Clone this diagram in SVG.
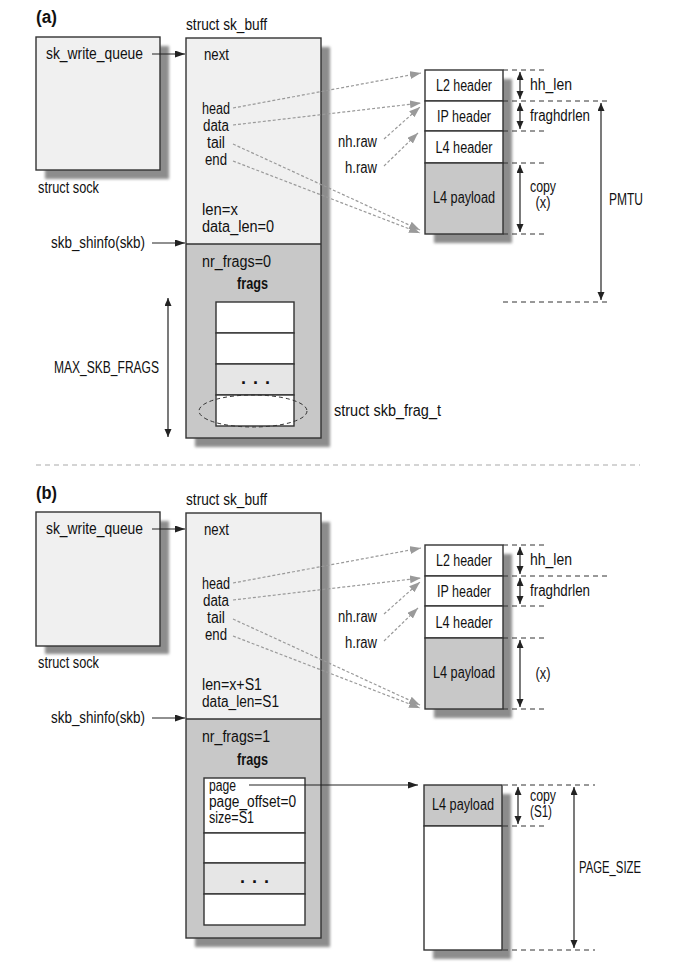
<svg xmlns="http://www.w3.org/2000/svg" width="676" height="964" viewBox="0 0 676 964">
<style>
text{font-family:"Liberation Sans",Arial,sans-serif;font-size:16px;fill:#111}
.b{font-weight:bold}
.t{font-size:18px;font-weight:bold}
.m{text-anchor:middle}
.dots{font-size:18px;font-weight:bold}
.box{stroke:#333;stroke-width:1.4}
.sh{fill:#8c8c8c;filter:url(#blur)}
.lt{fill:#f0f0f0}
.dk{fill:#c8c8c8}
.wh{fill:#fff}
.md{fill:#e6e6e6}
.arr{stroke:#222;stroke-width:1.2;fill:none;marker-end:url(#ah)}
.dbl{stroke:#222;stroke-width:1.2;fill:none;marker-end:url(#ah2);marker-start:url(#ah2)}
.gr{stroke:#9a9a9a;stroke-width:1.2;stroke-dasharray:3 2;fill:none;marker-end:url(#ahg)}
.dim{stroke:#333;stroke-width:1;stroke-dasharray:5 4;fill:none}
.sep{stroke:#aaa;stroke-width:1.2;stroke-dasharray:5 4}
</style>
<defs>
<filter id="blur" x="-10%" y="-10%" width="120%" height="120%"><feGaussianBlur stdDeviation="1.6"/></filter>
<marker id="ah" markerUnits="userSpaceOnUse" markerWidth="11" markerHeight="8" refX="10" refY="3.5" orient="auto"><path d="M0,0 L10,3.5 L0,7 z" fill="#222"/></marker>
<marker id="ah2" markerUnits="userSpaceOnUse" markerWidth="10" markerHeight="8" refX="8" refY="3.5" orient="auto-start-reverse"><path d="M0,0 L8,3.5 L0,7 z" fill="#222"/></marker>
<marker id="ahg" markerUnits="userSpaceOnUse" markerWidth="12" markerHeight="9" refX="11" refY="4" orient="auto"><path d="M0,0 L11,4 L0,8 z" fill="#9a9a9a"/></marker>
</defs>

<!-- ================= (a) ================= -->
<text x="36" y="23" class="t" textLength="21" lengthAdjust="spacingAndGlyphs">(a)</text>

<g id="sockA">
<rect x="45" y="46" width="124" height="133" class="sh"/>
<rect x="36" y="37" width="124" height="133" class="lt box"/>
<text x="46" y="59" textLength="97" lengthAdjust="spacingAndGlyphs">sk_write_queue</text>
<text x="38" y="193" textLength="61" lengthAdjust="spacingAndGlyphs">struct sock</text>
</g>

<g id="shinfoA">
<text x="51" y="248" textLength="94" lengthAdjust="spacingAndGlyphs">skb_shinfo(skb)</text>
</g>

<g id="skbA">
<text x="186" y="30" textLength="81" lengthAdjust="spacingAndGlyphs">struct sk_buff</text>
<rect x="195" y="47" width="135" height="400" class="sh"/>
<rect x="186" y="38" width="135" height="206" class="lt"/>
<rect x="186" y="244" width="135" height="194" class="dk"/>
<rect x="186" y="38" width="135" height="400" fill="none" class="box"/>
<line x1="186" y1="244" x2="321" y2="244" class="box"/>
<text x="204" y="60" textLength="25" lengthAdjust="spacingAndGlyphs">next</text>
<text x="202" y="114" textLength="28" lengthAdjust="spacingAndGlyphs">head</text>
<text x="203" y="131" textLength="26" lengthAdjust="spacingAndGlyphs">data</text>
<text x="207" y="148" textLength="18" lengthAdjust="spacingAndGlyphs">tail</text>
<text x="205" y="165" textLength="22" lengthAdjust="spacingAndGlyphs">end</text>
<text x="202" y="215" textLength="36" lengthAdjust="spacingAndGlyphs">len=x</text>
<text x="202" y="232" textLength="72" lengthAdjust="spacingAndGlyphs">data_len=0</text>
<text x="202" y="267" textLength="69" lengthAdjust="spacingAndGlyphs">nr_frags=0</text>
<text x="237" y="289" class="b" textLength="31" lengthAdjust="spacingAndGlyphs">frags</text>
</g>

<g id="fragsA">
<rect x="216" y="302" width="78" height="31" class="wh box"/>
<rect x="216" y="333" width="78" height="31" class="wh box"/>
<rect x="216" y="364" width="78" height="31" class="md box"/>
<rect x="216" y="395" width="78" height="31" class="wh box"/>
<text x="256" y="384" class="m dots" letter-spacing="1">. . .</text>
<ellipse cx="253" cy="411" rx="54" ry="16" fill="none" stroke="#333" stroke-width="1" stroke-dasharray="4 3"/>
<text x="334" y="416" textLength="107" lengthAdjust="spacingAndGlyphs">struct skb_frag_t</text>
</g>

<g id="maxA">
<text x="54" y="373" textLength="105" lengthAdjust="spacingAndGlyphs">MAX_SKB_FRAGS</text>
</g>

<g id="pktA">
<rect x="434" y="79" width="78" height="164" class="sh"/>
<rect x="425" y="70" width="78" height="31" class="wh box"/>
<rect x="425" y="101" width="78" height="30" class="wh box"/>
<rect x="425" y="131" width="78" height="32" class="wh box"/>
<rect x="425" y="163" width="78" height="71" class="dk box"/>
<text x="464" y="91" class="m" textLength="56" lengthAdjust="spacingAndGlyphs">L2 header</text>
<text x="464" y="122" class="m" textLength="54" lengthAdjust="spacingAndGlyphs">IP header</text>
<text x="464" y="153" class="m" textLength="57" lengthAdjust="spacingAndGlyphs">L4 header</text>
<text x="464" y="203" class="m" textLength="62" lengthAdjust="spacingAndGlyphs">L4 payload</text>
<text x="530" y="90" textLength="42" lengthAdjust="spacingAndGlyphs">hh_len</text>
<text x="530" y="121" textLength="60" lengthAdjust="spacingAndGlyphs">fraghdrlen</text>
<text x="543" y="192" class="m" textLength="26" lengthAdjust="spacingAndGlyphs">copy</text>
<text x="543" y="208" class="m" textLength="15" lengthAdjust="spacingAndGlyphs">(x)</text>
<text x="609" y="205" textLength="34" lengthAdjust="spacingAndGlyphs">PMTU</text>
<text x="338" y="147" textLength="39" lengthAdjust="spacingAndGlyphs">nh.raw</text>
<text x="345" y="173" textLength="32" lengthAdjust="spacingAndGlyphs">h.raw</text>
</g>

<g id="connectorsA">
<path d="M152,54 L185,54" class="arr"/>
<path d="M152,243 L185,243" class="arr"/>
<path d="M168,298 L168,437" class="dbl"/>
<path d="M233,108 L421,73" class="gr"/>
<path d="M233,125 L421,103" class="gr"/>
<path d="M384,139 L420,107" class="gr"/>
<path d="M384,166 L418,133" class="gr"/>
<path d="M233,144 L420,230" class="gr"/>
<path d="M233,161 L420,233" class="gr"/>
<path d="M503,70 H545 M503,101 H610 M503,131 H545 M503,163 H545 M503,234 H545 M503,302 H610" class="dim"/>
<path d="M520,72 L520,99" class="dbl"/>
<path d="M520,103 L520,129" class="dbl"/>
<path d="M520,165 L520,232" class="dbl"/>
<path d="M601,103 L601,300" class="dbl"/>
</g>

<line x1="36" y1="465" x2="640" y2="465" class="sep"/>

<!-- ================= (b) ================= -->
<text x="36" y="499" class="t" textLength="21" lengthAdjust="spacingAndGlyphs">(b)</text>

<g id="sockB">
<rect x="45" y="521" width="124" height="133" class="sh"/>
<rect x="36" y="512" width="124" height="134" class="lt box"/>
<text x="46" y="534" textLength="97" lengthAdjust="spacingAndGlyphs">sk_write_queue</text>
<text x="38" y="668" textLength="61" lengthAdjust="spacingAndGlyphs">struct sock</text>
</g>

<g id="shinfoB">
<text x="51" y="723" textLength="94" lengthAdjust="spacingAndGlyphs">skb_shinfo(skb)</text>
</g>

<g id="skbB">
<text x="186" y="505" textLength="81" lengthAdjust="spacingAndGlyphs">struct sk_buff</text>
<rect x="195" y="522" width="135" height="425" class="sh"/>
<rect x="186" y="513" width="135" height="206" class="lt"/>
<rect x="186" y="719" width="135" height="219" class="dk"/>
<rect x="186" y="513" width="135" height="425" fill="none" class="box"/>
<line x1="186" y1="719" x2="321" y2="719" class="box"/>
<text x="204" y="535" textLength="25" lengthAdjust="spacingAndGlyphs">next</text>
<text x="202" y="589" textLength="28" lengthAdjust="spacingAndGlyphs">head</text>
<text x="203" y="606" textLength="26" lengthAdjust="spacingAndGlyphs">data</text>
<text x="207" y="623" textLength="18" lengthAdjust="spacingAndGlyphs">tail</text>
<text x="205" y="640" textLength="22" lengthAdjust="spacingAndGlyphs">end</text>
<text x="202" y="690" textLength="60" lengthAdjust="spacingAndGlyphs">len=x+S1</text>
<text x="202" y="707" textLength="77" lengthAdjust="spacingAndGlyphs">data_len=S1</text>
<text x="202" y="742" textLength="68" lengthAdjust="spacingAndGlyphs">nr_frags=1</text>
<text x="237" y="765" class="b" textLength="31" lengthAdjust="spacingAndGlyphs">frags</text>
</g>

<g id="fragsB">
<rect x="204" y="778" width="101" height="55" class="wh box"/>
<rect x="204" y="833" width="101" height="30" class="wh box"/>
<rect x="204" y="863" width="101" height="31" class="md box"/>
<rect x="204" y="894" width="101" height="31" class="wh box"/>
<text x="209" y="791" textLength="27" lengthAdjust="spacingAndGlyphs">page</text>
<text x="209" y="807" textLength="87" lengthAdjust="spacingAndGlyphs">page_offset=0</text>
<text x="209" y="823" textLength="45" lengthAdjust="spacingAndGlyphs">size=S1</text>
<text x="255" y="883" class="m dots" letter-spacing="1">. . .</text>
</g>

<g id="pktB">
<rect x="434" y="554" width="78" height="164" class="sh"/>
<rect x="425" y="545" width="78" height="31" class="wh box"/>
<rect x="425" y="576" width="78" height="30" class="wh box"/>
<rect x="425" y="606" width="78" height="32" class="wh box"/>
<rect x="425" y="638" width="78" height="71" class="dk box"/>
<text x="464" y="566" class="m" textLength="56" lengthAdjust="spacingAndGlyphs">L2 header</text>
<text x="464" y="597" class="m" textLength="54" lengthAdjust="spacingAndGlyphs">IP header</text>
<text x="464" y="628" class="m" textLength="57" lengthAdjust="spacingAndGlyphs">L4 header</text>
<text x="464" y="678" class="m" textLength="62" lengthAdjust="spacingAndGlyphs">L4 payload</text>
<text x="530" y="565" textLength="42" lengthAdjust="spacingAndGlyphs">hh_len</text>
<text x="530" y="596" textLength="60" lengthAdjust="spacingAndGlyphs">fraghdrlen</text>
<text x="543" y="679" class="m" textLength="15" lengthAdjust="spacingAndGlyphs">(x)</text>
<text x="338" y="622" textLength="39" lengthAdjust="spacingAndGlyphs">nh.raw</text>
<text x="345" y="648" textLength="32" lengthAdjust="spacingAndGlyphs">h.raw</text>
</g>

<g id="pageB">
<rect x="433" y="794" width="78" height="165" class="sh"/>
<rect x="424" y="785" width="78" height="41" class="dk box"/>
<rect x="424" y="826" width="78" height="124" class="wh box"/>
<text x="463" y="810" class="m" textLength="62" lengthAdjust="spacingAndGlyphs">L4 payload</text>
<text x="530" y="801" textLength="26" lengthAdjust="spacingAndGlyphs">copy</text>
<text x="530" y="817" textLength="22" lengthAdjust="spacingAndGlyphs">(S1)</text>
<text x="579" y="873" textLength="62" lengthAdjust="spacingAndGlyphs">PAGE_SIZE</text>
</g>

<g id="connectorsB">
<path d="M152,529 L185,529" class="arr"/>
<path d="M152,718 L185,718" class="arr"/>
<path d="M249,785 L418,785" class="arr"/>
<path d="M233,583 L421,548" class="gr"/>
<path d="M233,600 L421,578" class="gr"/>
<path d="M384,614 L420,582" class="gr"/>
<path d="M384,641 L418,608" class="gr"/>
<path d="M233,619 L420,705" class="gr"/>
<path d="M233,636 L420,708" class="gr"/>
<path d="M503,545 H545 M503,576 H610 M503,606 H545 M503,638 H545 M503,709 H545" class="dim"/>
<path d="M503,785 H595 M503,826 H545 M503,950 H595" class="dim"/>
<path d="M520,547 L520,574" class="dbl"/>
<path d="M520,578 L520,604" class="dbl"/>
<path d="M520,640 L520,707" class="dbl"/>
<path d="M518,787 L518,824" class="dbl"/>
<path d="M574,787 L574,948" class="dbl"/>
</g>
</svg>
